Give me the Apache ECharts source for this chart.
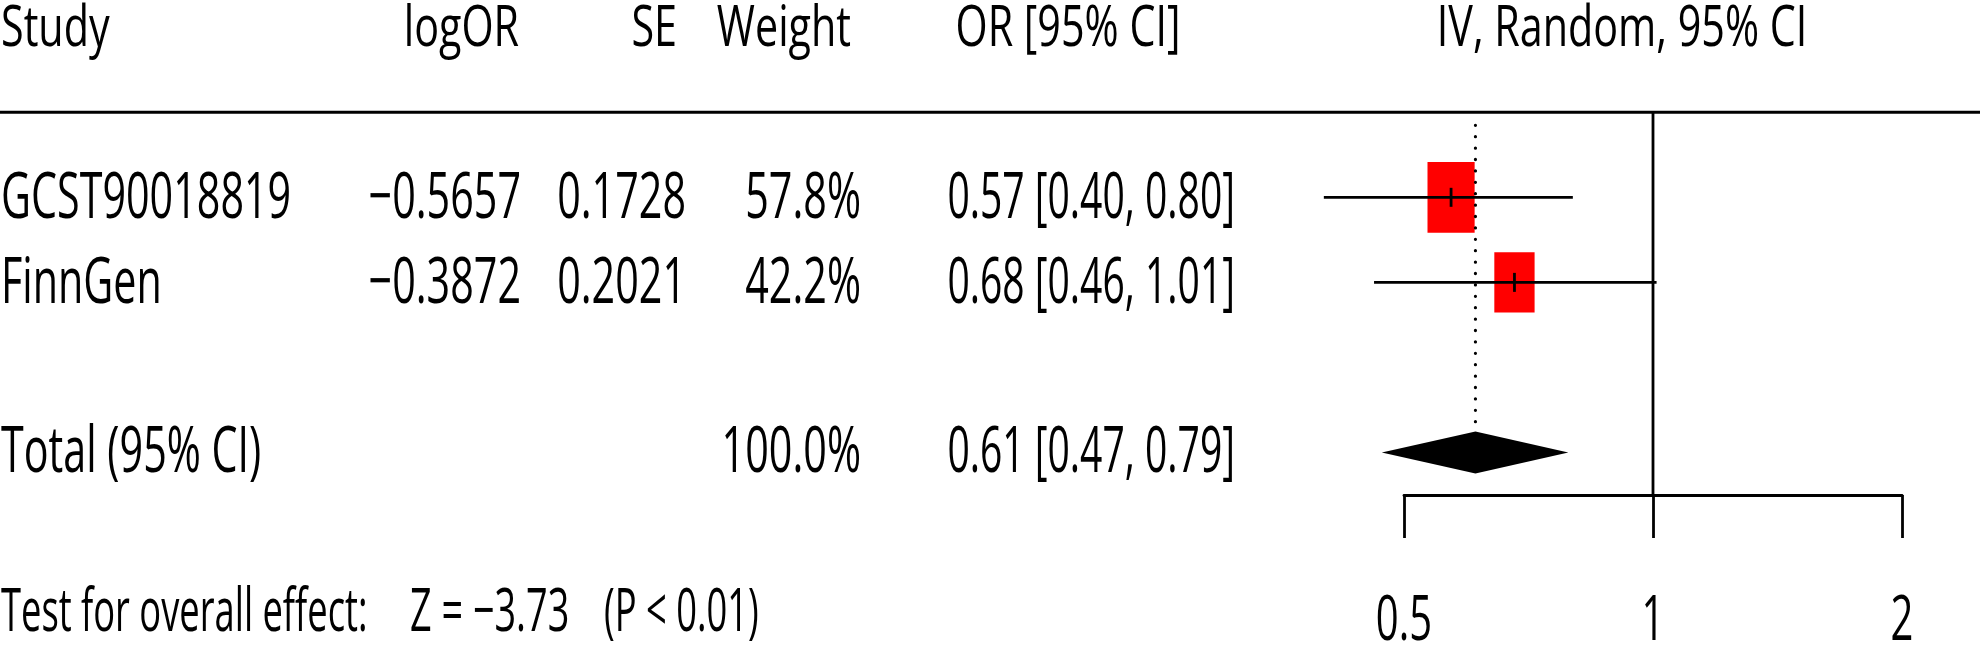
<!DOCTYPE html>
<html>
<head>
<meta charset="utf-8">
<script src="https://cdn.jsdelivr.net/npm/echarts@6.0.0/dist/echarts.min.js"></script>
<style>
  html, body { margin: 0; padding: 0; background: #fff; }
  #grafico { width: 1983px; height: 652px; }
</style>
</head>
<body>
<div id="grafico"></div>
<script>
// Dados do forest plot
const estudos = ['GCST90018819', 'FinnGen'];
const logOR = [-0.5657, -0.3872];
const erroPadrao = [0.1728, 0.2021];
const pesos = [57.8, 42.2];
const orValores = [0.57, 0.68];
const icInferior = [0.40, 0.46];
const icSuperior = [0.80, 1.01];

const totalRotulo = 'Total (95% CI)';
const totalPeso = 100.0;
const totalOR = 0.61;
const totalInferior = 0.47;
const totalSuperior = 0.79;

const testeRotulo = 'Test for overall effect:';
const testeZ = -3.73;
const testeP = '< 0.01';

const cabecalhos = ['Study', 'logOR', 'SE', 'Weight', 'OR [95% CI]', 'IV, Random, 95% CI'];
const ticksX = [0.5, 1, 2];

// posicoes das linhas no eixo y (unidades de linha)
const yCabecalho = -0.97;
const yLinhaTopo = 0;
const yEstudos = [1, 2];
const yTotal = 4;
const yEixo = 4.5;
const yTeste = 5.9;

const fonte = '"Open Sans", "DejaVu Sans", sans-serif';
const menos = v => (v < 0 ? '\u2212' : '') + Math.abs(v).toFixed(4);
const fmtIC = (o, a, b) => `${o.toFixed(2)} [${a.toFixed(2)}, ${b.toFixed(2)}]`;

function texto(str, x, y, alinhar, tamanho, escalaX) {
	return {
		type: 'text',
		x: x,
		y: y,
		scaleX: escalaX,
		style: {
			text: str,
			fill: '#000',
			fontSize: tamanho,
			fontFamily: fonte,
			align: alinhar,
			verticalAlign: 'middle'
		}
	};
}

const grafico = echarts.init(document.getElementById('grafico'));

const option = {
	animation: false,
	backgroundColor: '#fff',
	grid: { left: 1404, right: 81, top: 0, bottom: 157 },
	xAxis: {
		type: 'log',
		logBase: 2,
		min: 0.5,
		max: 2,
		axisLine: { show: true, onZero: false, lineStyle: { color: '#000', width: 2.8 } },
		axisTick: { show: true, length: 43, lineStyle: { color: '#000', width: 2.8 } },
		axisLabel: { show: false },
		splitLine: { show: false }
	},
	yAxis: {
		type: 'value',
		min: -1.32,
		max: 4.5,
		inverse: true,
		show: false
	},
	series: [
		// linha do topo e linha nula (OR = 1)
		{
			type: 'custom',
			name: 'Estrutura',
			silent: true,
			data: [[1, yLinhaTopo]],
			renderItem: function (params, api) {
				const topo = api.coord([1, yLinhaTopo]);
				const base = api.coord([1, yEixo]);
				return {
					type: 'group',
					children: [
						{ type: 'line', shape: { x1: 0, y1: topo[1], x2: 1980, y2: topo[1] }, style: { stroke: '#000', lineWidth: 2.8 } },
						{ type: 'line', shape: { x1: topo[0], y1: topo[1], x2: base[0], y2: base[1] }, style: { stroke: '#000', lineWidth: 2.8 } }
					]
				};
			}
		},
		// estudos: quadrado + IC
		{
			type: 'custom',
			name: 'Estudos',
			data: estudos.map((e, i) => [orValores[i], yEstudos[i], icInferior[i], icSuperior[i], pesos[i]]),
			renderItem: function (params, api) {
				const c = api.coord([api.value(0), api.value(1)]);
				const lo = api.coord([api.value(2), api.value(1)]);
				const hi = api.coord([api.value(3), api.value(1)]);
				const s = Math.sqrt(api.value(4));
				const bw = 6.2 * s, bh = 9.3 * s;
				return {
					type: 'group',
					children: [
						{ type: 'rect', shape: { x: c[0] - bw / 2, y: c[1] - bh / 2, width: bw, height: bh }, style: { fill: '#ff0000' } },
						{ type: 'line', shape: { x1: lo[0], y1: c[1], x2: hi[0], y2: c[1] }, style: { stroke: '#000', lineWidth: 2.8 } },
						{ type: 'line', shape: { x1: c[0], y1: c[1] - 9.5, x2: c[0], y2: c[1] + 9.5 }, style: { stroke: '#000', lineWidth: 2.8 } }
					]
				};
			}
		},
		// total: losango + linha pontilhada
		{
			type: 'custom',
			name: 'Total',
			data: [[totalOR, yTotal, totalInferior, totalSuperior]],
			renderItem: function (params, api) {
				const c = api.coord([api.value(0), api.value(1)]);
				const lo = api.coord([api.value(2), api.value(1)]);
				const hi = api.coord([api.value(3), api.value(1)]);
				const topo = api.coord([api.value(0), yLinhaTopo]);
				const h = 21;
				return {
					type: 'group',
					children: [
						{ type: 'line', shape: { x1: topo[0], y1: topo[1] + 13, x2: c[0], y2: c[1] - h }, style: { stroke: '#000', lineWidth: 3.2, lineDash: [0.1, 11.3], lineCap: 'round' } },
						{ type: 'polygon', shape: { points: [[lo[0], c[1]], [c[0], c[1] - h], [hi[0], c[1]], [c[0], c[1] + h]] }, style: { fill: '#000' } }
					]
				};
			}
		},
		// rotulos dos ticks
		{
			type: 'custom',
			name: 'Ticks',
			silent: true,
			data: ticksX.map(v => [v, yEixo]),
			renderItem: function (params, api) {
				const p = api.coord([api.value(0), api.value(1)]);
				return texto(String(api.value(0)), p[0], p[1] + 127, 'center', 63, 0.635);
			}
		},
		// tabela de textos
		{
			type: 'custom',
			name: 'Tabela',
			silent: true,
			data: [[1, yCabecalho], [1, yEstudos[0]], [1, yEstudos[1]], [1, yTotal], [1, yTeste]],
			renderItem: function (params, api) {
				const i = params.dataIndex;
				const y = api.coord([1, api.value(1)])[1];
				const lin = 64, sx = 0.645, sxIC = 0.61;
				let filhos = [];
				if (i === 0) {
					const tc = 56, sc = 0.737;
					filhos = [
						texto(cabecalhos[0], 1, y, 'left', tc, sc),
						texto(cabecalhos[1], 519, y, 'right', tc, sc),
						texto(cabecalhos[2], 677, y, 'right', tc, sc),
						texto(cabecalhos[3], 851, y, 'right', tc, sc),
						texto(cabecalhos[4], 1068, y, 'center', tc, sc),
						texto(cabecalhos[5], 1622, y, 'center', tc, sc)
					];
				} else if (i === 1 || i === 2) {
					const k = i - 1;
					const yy = y + 2;
					filhos = [
						texto(estudos[k], 1, yy, 'left', lin, sx),
						texto(menos(logOR[k]), 521, yy, 'right', lin, sx),
						texto(erroPadrao[k].toFixed(4), 686, yy, 'right', lin, sx),
						texto(pesos[k].toFixed(1) + '%', 861, yy, 'right', lin, sx),
						texto(fmtIC(orValores[k], icInferior[k], icSuperior[k]), 1235, yy, 'right', lin, sxIC)
					];
				} else if (i === 3) {
					const yy = y + 1;
					filhos = [
						texto(totalRotulo, 1, yy, 'left', lin, sx),
						texto(totalPeso.toFixed(1) + '%', 861, yy, 'right', lin, sx),
						texto(fmtIC(totalOR, totalInferior, totalSuperior), 1235, yy, 'right', lin, sxIC)
					];
				} else {
					const tt = 60, st = 0.605;
					filhos = [
						texto(testeRotulo, 1, y, 'left', tt, st),
						texto('Z = ' + (testeZ < 0 ? '\u2212' : '') + Math.abs(testeZ).toFixed(2), 410, y, 'left', tt, 0.63),
						texto('(P ' + testeP + ')', 604, y, 'left', tt, st)
					];
				}
				return { type: 'group', children: filhos };
			}
		}
	]
};

grafico.setOption(option);
</script>
</body>
</html>
